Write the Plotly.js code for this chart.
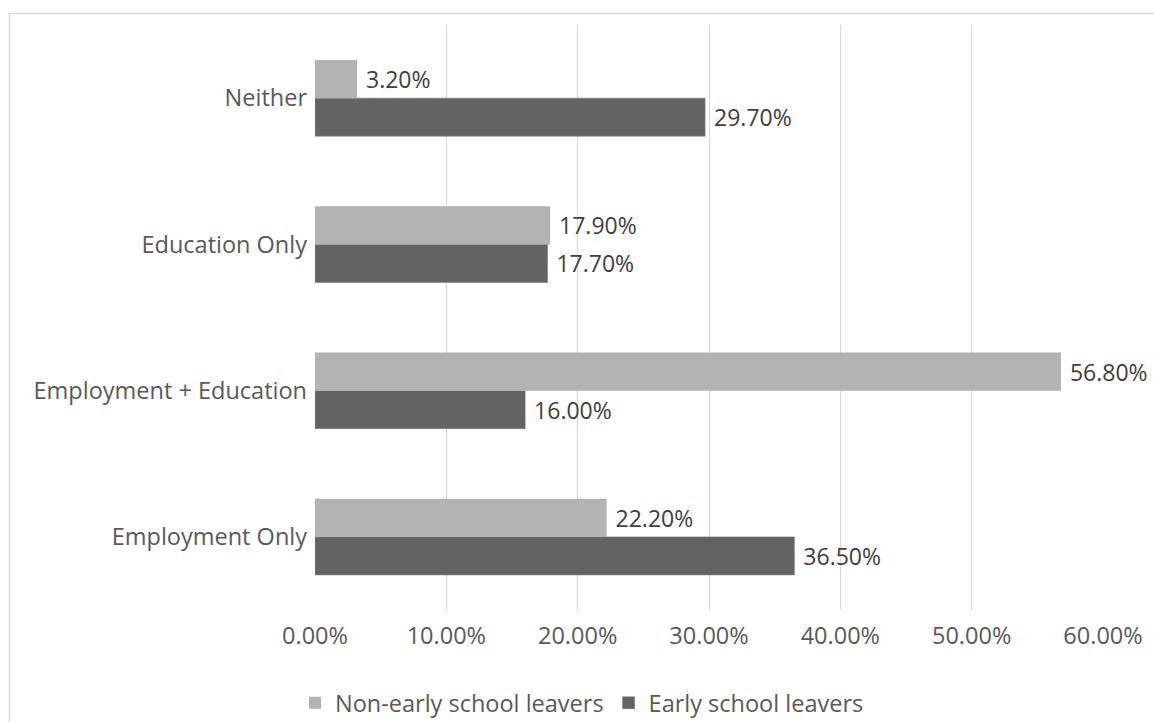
<!DOCTYPE html>
<html>
<head>
<meta charset="utf-8">
<script src="https://cdn.plot.ly/plotly-3.0.1.min.js"></script>
<style>
  html, body { margin: 0; padding: 0; background: #ffffff; }
  #chart { width: 1154px; height: 722px; }
</style>
</head>
<body>
<div id="chart"></div>
<script>
// Activity status, listed from bottom to top of the chart
const categories = ["Employment Only", "Employment + Education", "Education Only", "Neither"];
const nonEarlyLeavers = [22.2, 56.8, 17.9, 3.2];
const earlyLeavers = [36.5, 16.0, 17.7, 29.7];
const xTickValues = [0, 10, 20, 30, 40, 50, 60];
const xTickLabels = ["0.00%", "10.00%", "20.00%", "30.00%", "40.00%", "50.00%", "60.00%"];

const fontFamily = "'Open Sans', 'Noto Sans', sans-serif";
const textSize = 23.5;
// value label with a small lead-in gap after the bar end
const pct = v => "\u00a0" + v.toFixed(2) + "%";

// Plot area geometry (pixels) used for the frame around the whole chart
const L = 315, R = 51, T = 25, B = 112, W = 1154, H = 722;
const pw = W - L - R, ph = H - T - B;
const px = x => (x - L) / pw;
const py = y => (H - B - y) / ph;

// The first trace sits lower within each group, so the dark series comes first
const traces = [
  {
    type: "bar",
    orientation: "h",
    name: "Early school leavers",
    y: categories,
    x: earlyLeavers,
    text: earlyLeavers.map(pct),
    textposition: "outside",
    cliponaxis: false,
    textfont: { family: fontFamily, size: 23, color: "#404040" },
    marker: { color: "#636363", line: { color: "#7a7a7a", width: 0.6 } },
    legendrank: 2,
    hoverinfo: "skip"
  },
  {
    type: "bar",
    orientation: "h",
    name: "Non-early school leavers",
    y: categories,
    x: nonEarlyLeavers,
    text: nonEarlyLeavers.map(pct),
    textposition: "outside",
    cliponaxis: false,
    textfont: { family: fontFamily, size: 23, color: "#404040" },
    marker: { color: "#b3b3b3" },
    legendrank: 1,
    hoverinfo: "skip"
  }
];

const layout = {
  width: W,
  height: H,
  margin: { l: L, r: R, t: T, b: B, pad: 0, autoexpand: false },
  paper_bgcolor: "#ffffff",
  plot_bgcolor: "#ffffff",
  font: { family: fontFamily, color: "#595959" },
  barmode: "group",
  bargap: 0.48,
  bargroupgap: 0,
  showlegend: true,
  legend: {
    orientation: "h",
    x: px(295),
    xanchor: "left",
    y: py(703),
    yanchor: "middle",
    font: { family: fontFamily, size: textSize, color: "#595959" },
    itemclick: false,
    itemdoubleclick: false
  },
  xaxis: {
    range: [0, 60],
    tickvals: xTickValues,
    ticktext: xTickLabels,
    showgrid: true,
    gridcolor: "#d9d9d9",
    gridwidth: 1,
    zeroline: false,
    showline: false,
    ticks: "",
    ticklabelstandoff: 9,
    tickfont: { family: fontFamily, size: textSize, color: "#595959" },
    fixedrange: true
  },
  yaxis: {
    type: "category",
    categoryorder: "array",
    categoryarray: categories,
    showgrid: false,
    zeroline: false,
    showline: false,
    ticks: "",
    ticklabelstandoff: 7,
    tickfont: { family: fontFamily, size: textSize, color: "#595959" },
    fixedrange: true
  },
  shapes: [
    {
      type: "rect",
      xref: "paper",
      yref: "paper",
      x0: px(9.5),
      x1: px(1170),
      y0: py(740),
      y1: py(13.5),
      line: { color: "#d9d9d9", width: 1.5 },
      fillcolor: "rgba(0,0,0,0)",
      layer: "below"
    }
  ]
};

Plotly.newPlot("chart", traces, layout, { staticPlot: true, displayModeBar: false });
</script>
</body>
</html>
